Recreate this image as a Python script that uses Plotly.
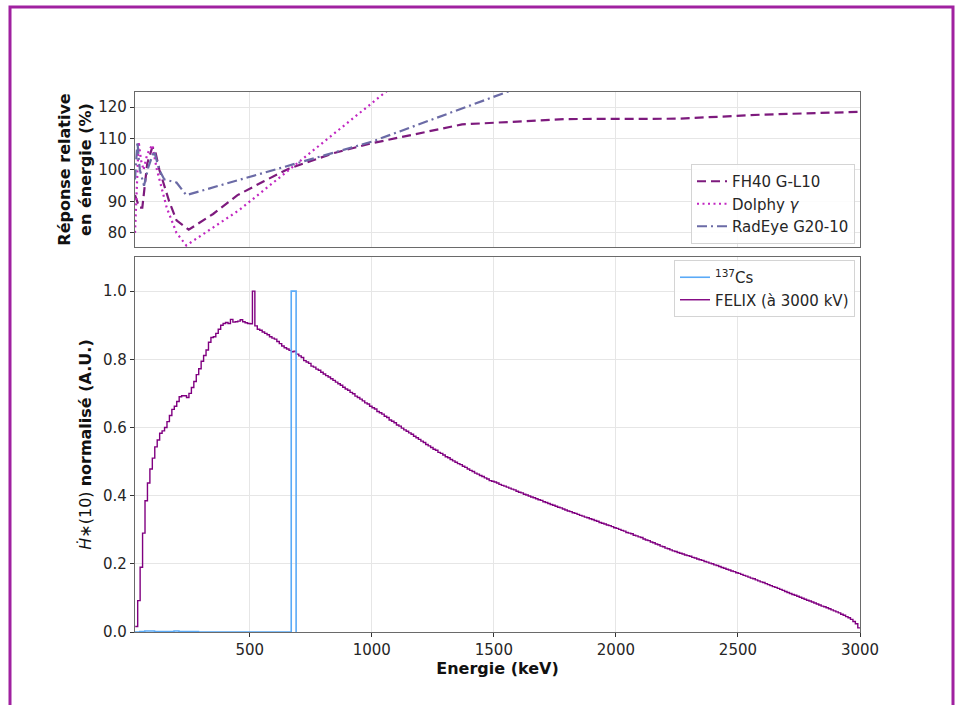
import plotly.graph_objects as go

# ---------------- data ----------------
# FELIX spectrum (10 keV bins)
felix_start = 31
felix_width = 10
felix_values = [
    0.016, 0.092, 0.19, 0.29, 0.385, 0.437, 0.478, 0.51, 0.543, 0.563,
    0.583, 0.59, 0.60, 0.617, 0.635, 0.653, 0.662, 0.676, 0.69, 0.693,
    0.693, 0.688, 0.70, 0.717, 0.735, 0.755, 0.772, 0.794, 0.811, 0.827,
    0.85, 0.864, 0.866, 0.876, 0.888, 0.90, 0.905, 0.908, 0.905, 0.917,
    0.909, 0.91, 0.912, 0.916, 0.91, 0.907, 0.905, 0.904, 1.0, 0.898,
    0.888, 0.885, 0.88, 0.876, 0.872, 0.866, 0.862, 0.859, 0.852, 0.846,
    0.839, 0.834,
    0.830, 0.826, 0.822, 0.824, 0.815, 0.810, 0.805, 0.796, 0.792, 0.788,
    0.780, 0.777, 0.771, 0.768, 0.762, 0.757, 0.752, 0.748, 0.743, 0.738,
    0.733, 0.728, 0.724, 0.718, 0.713, 0.709, 0.703, 0.699, 0.692, 0.688,
    0.683, 0.678, 0.672, 0.669, 0.662, 0.658, 0.654, 0.647, 0.643, 0.639,
    0.633, 0.629, 0.622, 0.618, 0.614, 0.607, 0.604, 0.598, 0.593, 0.589,
    0.584, 0.580, 0.574, 0.570, 0.565, 0.560, 0.556, 0.550, 0.546, 0.541,
    0.536, 0.533, 0.527, 0.524, 0.519, 0.514, 0.511, 0.506, 0.502, 0.498,
    0.494, 0.491, 0.486, 0.483, 0.478, 0.474, 0.471, 0.466, 0.463, 0.459,
    0.456, 0.452, 0.449, 0.444, 0.442, 0.440, 0.437, 0.433, 0.430, 0.428,
    0.425, 0.422, 0.419, 0.417, 0.413, 0.410, 0.408, 0.404, 0.402, 0.399,
    0.396, 0.394, 0.391, 0.388, 0.386, 0.382, 0.380, 0.377, 0.374, 0.372,
    0.369, 0.366, 0.364, 0.361, 0.358, 0.355, 0.353, 0.350, 0.348, 0.345,
    0.342, 0.340, 0.337, 0.335, 0.332, 0.330, 0.327, 0.325, 0.321, 0.319,
    0.317, 0.314, 0.312, 0.309, 0.306, 0.304, 0.301, 0.298, 0.296, 0.292,
    0.290, 0.288, 0.284, 0.282, 0.279, 0.277, 0.273, 0.270, 0.268, 0.264,
    0.262, 0.258, 0.256, 0.252, 0.250, 0.246, 0.244, 0.241, 0.238, 0.236,
    0.233, 0.231, 0.229, 0.226, 0.224, 0.222, 0.219, 0.217, 0.214, 0.212,
    0.210, 0.207, 0.205, 0.202, 0.200, 0.197, 0.195, 0.192, 0.189, 0.187,
    0.184, 0.182, 0.179, 0.177, 0.174, 0.172, 0.169, 0.166, 0.164, 0.161,
    0.158, 0.156, 0.153, 0.150, 0.147, 0.145, 0.142, 0.139, 0.136, 0.133,
    0.131, 0.128, 0.125, 0.122, 0.119, 0.116, 0.113, 0.110, 0.108, 0.105,
    0.102, 0.099, 0.096, 0.093, 0.091, 0.088, 0.085, 0.082, 0.079, 0.076,
    0.074, 0.071, 0.068, 0.065, 0.062, 0.059, 0.056, 0.052, 0.049, 0.045,
    0.042, 0.037, 0.031, 0.024, 0.012,
]

# 137Cs spectrum (20 keV bins starting at 30 keV)
cs_start = 30
cs_width = 20
cs_values = [
    0.0, 0.001, 0.003, 0.003, 0.001, 0.001, 0.001, 0.001, 0.003, 0.001,
    0.001, 0.001, 0.001,
    0.0, 0.0, 0.0, 0.0, 0.0, 0.0, 0.0, 0.0, 0.0, 0.0,
    0.0, 0.0, 0.0, 0.0, 0.0, 0.0, 0.0, 0.0, 0.0,
    1.0,
]

# Relative energy responses (%)
fh40_energy = [30, 40, 48, 60, 80, 100, 110, 130, 170, 200, 250, 350, 450, 560, 662,
               850, 1000, 1370, 1800, 2250, 2600, 3000]
fh40_resp = [92, 90, 88, 88, 102, 107, 107, 100, 90, 84, 81, 86, 92, 96.5, 100.5,
             105.5, 108.5, 114.5, 116.2, 116.3, 117.6, 118.5]

dolphy_energy = [30, 45, 55, 65, 80, 100, 120, 160, 200, 240, 456, 700, 1100]
dolphy_resp = [80, 109, 103, 100, 105, 108, 100, 88, 80, 76, 87.2, 102.5, 127.5]

radeye_energy = [30, 35, 40, 45, 50, 67, 85, 108, 130, 150, 200, 240, 500, 662,
                 1000, 1560, 1700]
radeye_resp = [97, 104, 109, 104, 100, 95, 101, 106, 100, 97, 96, 92, 97.8, 101.3,
               109, 125, 128.5]

x_ticks = [500, 1000, 1500, 2000, 2500, 3000]
y_top_ticks = [80, 90, 100, 110, 120]
y_bot_ticks = [0.0, 0.2, 0.4, 0.6, 0.8, 1.0]

# ---------------- build step arrays ----------------
felix_x = [felix_start + felix_width * i for i in range(len(felix_values))]
felix_x.append(3000)
felix_y = felix_values + [felix_values[-1]]

cs_x = [cs_start + cs_width * i for i in range(len(cs_values))]
cs_x.append(cs_start + cs_width * len(cs_values))
cs_y = cs_values + [0.0]

# ---------------- figure ----------------
W, H = 956, 705
L, R, T, B = 135, 96, 92, 73
PW, PH = W - L - R, H - T - B

def py(pix):
    return (H - B - pix) / PH

def px(pix):
    return (pix - L) / PW

FONT = "DejaVu Sans"
fig = go.Figure()

fig.add_trace(go.Scatter(x=fh40_energy, y=fh40_resp, mode="lines", name="FH40 G-L10",
                         line=dict(color="#7d1a7d", width=2.2, dash="9px,5px"),
                         xaxis="x2", yaxis="y2", legend="legend"))
fig.add_trace(go.Scatter(x=dolphy_energy, y=dolphy_resp, mode="lines", name="Dolphy <i>γ</i>",
                         line=dict(color="#c126c1", width=2.2, dash="2px,3.5px"),
                         xaxis="x2", yaxis="y2", legend="legend"))
fig.add_trace(go.Scatter(x=radeye_energy, y=radeye_resp, mode="lines", name="RadEye G20-10",
                         line=dict(color="#6b6ba6", width=2.2, dash="10px,4px,2px,4px"),
                         xaxis="x2", yaxis="y2", legend="legend"))

fig.add_trace(go.Scatter(x=felix_x, y=felix_y, mode="lines", name="FELIX (à 3000 kV)",
                         line=dict(color="#800080", width=1.4, shape="hv"),
                         xaxis="x", yaxis="y", legend="legend2", legendrank=2))
fig.add_trace(go.Scatter(x=cs_x, y=cs_y, mode="lines", name="<sup>137</sup>Cs",
                         line=dict(color="#5aaaf7", width=1.6, shape="hv"),
                         xaxis="x", yaxis="y", legend="legend2", legendrank=1))

TICKFONT = dict(family=FONT, size=15, color="#262626")
axis_common = dict(showline=True, mirror=True, linecolor="#6a6a6a", linewidth=1.3,
                   showgrid=True, gridcolor="#e6e6e6", gridwidth=1, zeroline=False,
                   tickfont=TICKFONT)

top_dom = [py(247), 1.0]
bot_dom = [0.0, py(257)]

fig.update_layout(
    width=W, height=H,
    margin=dict(l=L, r=R, t=T, b=B),
    paper_bgcolor="white", plot_bgcolor="white",
    font=dict(family=FONT, size=15, color="#262626"),
    xaxis=dict(range=[30, 3000], tickvals=x_ticks, ticks="outside", ticklen=4,
               tickcolor="#333", anchor="y",
               title=dict(text="<b>Energie (keV)</b>", standoff=4,
                          font=dict(family=FONT, size=16, color="#111")),
               **axis_common),
    yaxis=dict(domain=bot_dom, range=[0, 1.1], tickvals=y_bot_ticks, tickformat=".1f",
               ticks="outside", ticklen=4, tickcolor="#333", anchor="x",
               title=dict(text="<i>Ḣ</i>∗(10) <b>normalisé (A.U.)</b>", standoff=7,
                          font=dict(family=FONT, size=16, color="#111")),
               **axis_common),
    xaxis2=dict(range=[30, 3000], tickvals=x_ticks, showticklabels=False, ticks="",
                matches="x", anchor="y2", **axis_common),
    yaxis2=dict(domain=top_dom, range=[75.5, 124.8], tickvals=y_top_ticks,
                ticks="outside", ticklen=4, tickcolor="#333", anchor="x2",
                title=dict(text="<b>Réponse relative<br>en énergie (%)</b>", standoff=2,
                           font=dict(family=FONT, size=16, color="#111")),
                **axis_common),
    legend=dict(x=px(855), y=py(164), xanchor="right", yanchor="top",
                bgcolor="rgba(255,255,255,0.85)", bordercolor="#d4d4d4", borderwidth=1,
                font=dict(family=FONT, size=15, color="#262626"),
                traceorder="normal", itemwidth=30),
    legend2=dict(x=px(855), y=py(260), xanchor="right", yanchor="top",
                 bgcolor="rgba(255,255,255,0.85)", bordercolor="#d4d4d4", borderwidth=1,
                 font=dict(family=FONT, size=15, color="#262626"),
                 traceorder="normal", itemwidth=30),
    showlegend=True,
    shapes=[dict(type="rect", xref="paper", yref="paper",
                 x0=px(10), x1=px(953), y0=py(715), y1=py(7),
                 line=dict(color="#a021a0", width=3), layer="above")],
)

fig.write_html("out.html")
